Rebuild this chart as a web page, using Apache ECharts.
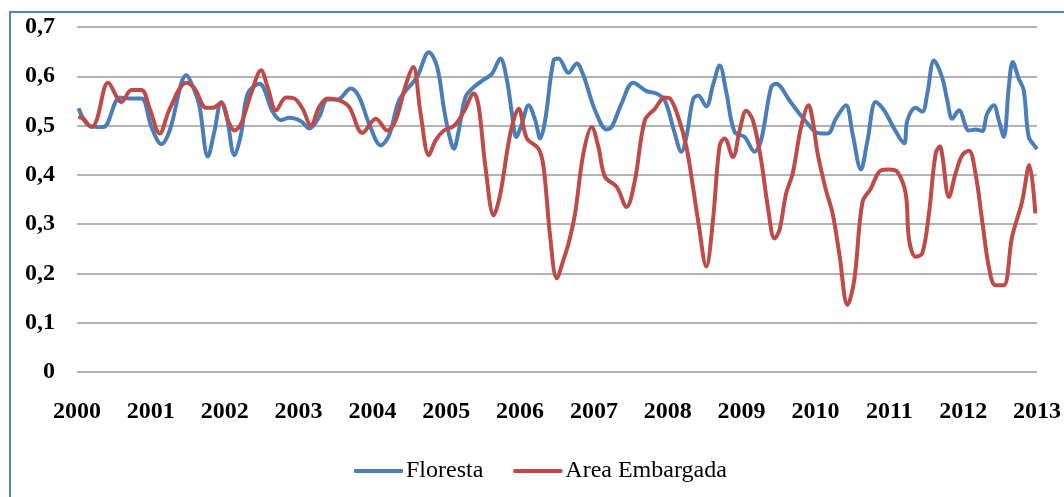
<!DOCTYPE html>
<html>
<head>
<meta charset="utf-8">
<style>
html,body{margin:0;padding:0;background:#fff;}
#c{width:1064px;height:497px;}
</style>
<script src="https://cdn.jsdelivr.net/npm/echarts@6/dist/echarts.min.js"></script>
</head>
<body>
<div id="c"></div>
<script>
const seriesNames = ['Floresta', 'Area Embargada'];
const yTicks = [0, 0.1, 0.2, 0.3, 0.4, 0.5, 0.6, 0.7];

const florestaX = [2000.02,2000.175,2000.355,2000.58,2000.715,2000.873,2001.008,2001.143,2001.255,2001.481,2001.593,2001.66,2001.772,2001.863,2001.953,2002.021,2002.133,2002.223,2002.312,2002.47,2002.65,2002.763,2002.875,2003.033,2003.145,2003.28,2003.392,2003.527,2003.708,2003.82,2003.955,2004.113,2004.225,2004.36,2004.495,2004.607,2004.765,2004.877,2004.968,2005.035,2005.103,2005.17,2005.261,2005.373,2005.508,2005.62,2005.733,2005.822,2005.89,2005.949,2006.025,2006.115,2006.205,2006.273,2006.34,2006.453,2006.52,2006.655,2006.767,2006.857,2007.015,2007.172,2007.24,2007.375,2007.532,2007.712,2007.847,2007.96,2008.095,2008.184,2008.252,2008.342,2008.41,2008.522,2008.612,2008.703,2008.792,2008.905,2009.04,2009.175,2009.264,2009.4,2009.467,2009.648,2009.783,2009.895,2010.03,2010.165,2010.277,2010.412,2010.502,2010.615,2010.705,2010.817,2010.93,2011.065,2011.2,2011.245,2011.357,2011.447,2011.515,2011.605,2011.717,2011.785,2011.852,2011.943,2012.078,2012.167,2012.257,2012.325,2012.415,2012.482,2012.55,2012.618,2012.672,2012.753,2012.82,2012.888,2012.977,2013];
const florestaY = [0.535,0.499,0.497,0.557,0.555,0.555,0.497,0.462,0.49,0.602,0.57,0.538,0.437,0.49,0.548,0.524,0.44,0.484,0.565,0.585,0.528,0.511,0.516,0.509,0.494,0.518,0.553,0.553,0.575,0.558,0.504,0.46,0.48,0.551,0.578,0.599,0.649,0.619,0.535,0.484,0.453,0.49,0.558,0.578,0.593,0.605,0.636,0.592,0.524,0.477,0.504,0.541,0.511,0.474,0.511,0.632,0.636,0.607,0.626,0.602,0.531,0.492,0.497,0.545,0.587,0.57,0.565,0.551,0.484,0.447,0.477,0.553,0.561,0.539,0.582,0.622,0.568,0.487,0.477,0.447,0.47,0.578,0.585,0.551,0.524,0.504,0.485,0.484,0.514,0.541,0.484,0.411,0.47,0.548,0.531,0.494,0.464,0.511,0.536,0.528,0.565,0.632,0.597,0.551,0.514,0.531,0.49,0.492,0.489,0.524,0.541,0.511,0.477,0.578,0.629,0.595,0.572,0.477,0.457,0.452];

const areaX = [2000.018,2000.085,2000.198,2000.266,2000.423,2000.603,2000.738,2000.873,2000.985,2001.12,2001.255,2001.481,2001.593,2001.751,2001.84,2001.953,2002.042,2002.133,2002.223,2002.358,2002.493,2002.582,2002.696,2002.831,2002.943,2003.055,2003.168,2003.28,2003.392,2003.55,2003.685,2003.865,2004.046,2004.202,2004.316,2004.451,2004.553,2004.653,2004.765,2004.856,2004.968,2005.103,2005.238,2005.373,2005.44,2005.531,2005.643,2005.733,2005.868,2005.98,2006.092,2006.25,2006.318,2006.408,2006.497,2006.588,2006.655,2006.745,2006.857,2006.97,2007.06,2007.15,2007.307,2007.442,2007.555,2007.69,2007.825,2007.96,2008.028,2008.14,2008.252,2008.342,2008.41,2008.522,2008.612,2008.703,2008.77,2008.882,2008.973,2009.062,2009.152,2009.264,2009.355,2009.445,2009.513,2009.602,2009.692,2009.805,2009.908,2009.962,2010.03,2010.142,2010.232,2010.322,2010.434,2010.525,2010.637,2010.749,2010.884,2010.997,2011.11,2011.222,2011.268,2011.357,2011.447,2011.537,2011.627,2011.687,2011.717,2011.808,2011.897,2011.987,2012.078,2012.167,2012.257,2012.347,2012.437,2012.55,2012.662,2012.797,2012.896,2012.977];
const areaY = [0.518,0.514,0.497,0.511,0.587,0.548,0.572,0.572,0.534,0.484,0.534,0.587,0.575,0.536,0.536,0.546,0.511,0.49,0.504,0.565,0.612,0.578,0.531,0.557,0.555,0.534,0.5,0.538,0.555,0.551,0.538,0.485,0.514,0.49,0.511,0.582,0.619,0.524,0.44,0.47,0.49,0.499,0.528,0.565,0.538,0.416,0.318,0.362,0.484,0.534,0.474,0.453,0.416,0.274,0.19,0.228,0.26,0.322,0.443,0.497,0.457,0.396,0.376,0.335,0.389,0.511,0.534,0.557,0.555,0.518,0.457,0.375,0.308,0.214,0.308,0.46,0.474,0.436,0.49,0.53,0.511,0.43,0.335,0.271,0.288,0.362,0.403,0.497,0.541,0.511,0.443,0.369,0.322,0.241,0.136,0.186,0.345,0.372,0.409,0.411,0.406,0.362,0.268,0.234,0.241,0.322,0.443,0.458,0.44,0.355,0.403,0.44,0.449,0.403,0.308,0.214,0.176,0.176,0.274,0.345,0.42,0.322];

const florestaData = florestaX.map((x, i) => [x, florestaY[i]]);
const areaData = areaX.map((x, i) => [x, areaY[i]]);

const chart = echarts.init(document.getElementById('c'), null, {renderer: 'canvas'});
const serif = '"Liberation Serif", "Times New Roman", serif';
chart.setOption({
  animation: false,
  backgroundColor: '#ffffff',
  graphic: [{
    type: 'rect',
    shape: {x: 10, y: 12, width: 1080, height: 520},
    style: {fill: 'none', stroke: '#4F81BD', lineWidth: 2},
    silent: true
  }],
  grid: {left: 77, right: 24, top: 27, bottom: 125, containLabel: false},
  xAxis: {
    type: 'value', min: 2000, max: 2013, interval: 1,
    axisLine: {show: false}, axisTick: {show: false}, splitLine: {show: false},
    axisLabel: {
      formatter: v => String(v), margin: 28,
      fontFamily: serif, fontWeight: 'bold', fontSize: 24, color: '#000'
    }
  },
  yAxis: {
    type: 'value', min: yTicks[0], max: yTicks[yTicks.length - 1], interval: 0.1,
    axisLine: {show: false}, axisTick: {show: false},
    splitLine: {show: true, lineStyle: {color: '#9a9a9a', width: 1.5}},
    axisLabel: {
      formatter: v => (Math.abs(v) < 1e-9 ? '0' : v.toFixed(1).replace('.', ',')),
      margin: 22, fontFamily: serif, fontWeight: 'bold', fontSize: 24, color: '#000'
    }
  },
  legend: {
    data: seriesNames.map(n => ({name: n, icon: 'roundRect'})),
    left: 349, top: 454,
    itemWidth: 49, itemHeight: 4, itemGap: 30,
    textStyle: {fontFamily: serif, fontSize: 24, color: '#000', padding: [0, 0, 0, -2]}
  },
  series: [
    {
      name: seriesNames[0], type: 'line', data: florestaData,
      smooth: 0.35, showSymbol: false, symbol: 'none',
      lineStyle: {color: '#4A7EBB', width: 4}, itemStyle: {color: '#4A7EBB'}
    },
    {
      name: seriesNames[1], type: 'line', data: areaData,
      smooth: 0.35, showSymbol: false, symbol: 'none',
      lineStyle: {color: '#BE4B48', width: 4}, itemStyle: {color: '#BE4B48'}
    }
  ]
});
</script>
</body>
</html>
